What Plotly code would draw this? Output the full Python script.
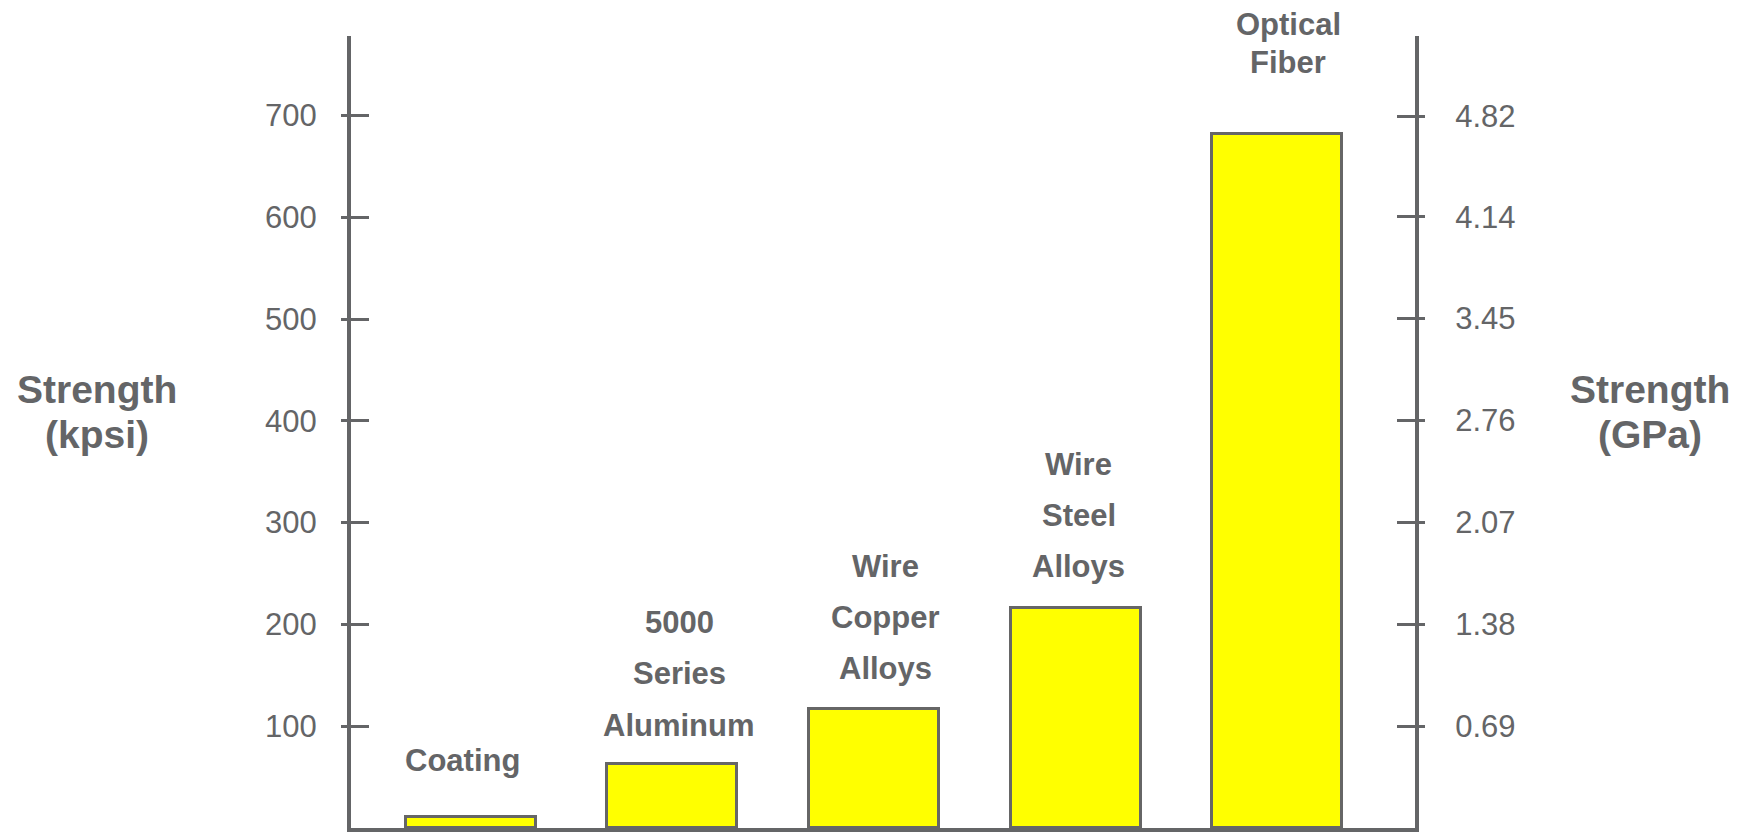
import plotly.graph_objects as go

# Tensile strength of common conductor / fiber materials
categories = ["Coating", "5000 Series Aluminum", "Wire Copper Alloys",
              "Wire Steel Alloys", "Optical Fiber"]
strength_kpsi = [11, 63, 117, 216, 682]
label_lines = [["Coating"],
               ["5000", "Series", "Aluminum"],
               ["Wire", "Copper", "Alloys"],
               ["Wire", "Steel", "Alloys"],
               ["Optical", "Fiber"]]
kpsi_ticks = [100, 200, 300, 400, 500, 600, 700]
gpa_tick_labels = ["0.69", "1.38", "2.07", "2.76", "3.45", "4.14", "4.82"]
KPSI_TO_GPA = 0.006895

# ---- styling -------------------------------------------------------------
W, H = 1748, 832
M_L, M_R, M_T, M_B = 351, 333, 36, 4
PLOT_W, PLOT_H = W - M_L - M_R, H - M_T - M_B
GRAY = "#646567"
FONT = "Arial, 'Liberation Sans', sans-serif"
Y_MAX = 778
X_RANGE = [-0.593, 4.682]

# label placement above each bar (pixels): gap to bottom baseline, line step, x nudge
label_gap = [46, 28, 30, 31, 60]
label_step = [0, 51.5, 51, 51, 38]
label_dx = [-8, 7, 11, 3, 11]
LABEL_SIZE = 31
TITLE_SIZE = 39


def px_to_paper_x(px):
    return (px - M_L) / PLOT_W


def px_to_paper_y(py):
    return (H - M_B - py) / PLOT_H


strength_gpa = [v * KPSI_TO_GPA for v in strength_kpsi]

fig = go.Figure()
fig.add_trace(go.Bar(
    x=categories, y=strength_kpsi, width=0.645,
    marker=dict(color="#FFFF00", line=dict(color="#666666", width=3)),
    hovertemplate="%{x}: %{y} kpsi<extra></extra>", showlegend=False,
))
# same values in GPa on the right-hand scale (invisible, keeps that axis live)
fig.add_trace(go.Scatter(
    x=categories, y=strength_gpa, yaxis="y2", mode="markers",
    marker=dict(opacity=0), hoverinfo="skip", showlegend=False,
))
# carriers for the outward half of the tick marks on each side
fig.add_trace(go.Scatter(
    x=categories, y=strength_kpsi, yaxis="y3", mode="markers",
    marker=dict(opacity=0), hoverinfo="skip", showlegend=False,
))
fig.add_trace(go.Scatter(
    x=categories, y=strength_gpa, yaxis="y4", mode="markers",
    marker=dict(opacity=0), hoverinfo="skip", showlegend=False,
))

annotations = []
# multi-line bar labels, one annotation per line for wider line spacing
for cat, val, lines, gap, step, dx in zip(categories, strength_kpsi, label_lines,
                                          label_gap, label_step, label_dx):
    n = len(lines)
    for k, line in enumerate(lines):
        j = n - 1 - k
        annotations.append(dict(
            x=cat, y=val, xref="x", yref="y", text="<b>%s</b>" % line,
            showarrow=False, xanchor="center", yanchor="middle",
            xshift=dx, yshift=gap + 0.3465 * LABEL_SIZE + j * step,
            font=dict(family=FONT, size=LABEL_SIZE, color=GRAY),
        ))

# axis titles
for cx, lines in ((97, ["Strength", "(kpsi)"]), (1650, ["Strength", "(GPa)"])):
    for line, base in zip(lines, (403, 448.5)):
        annotations.append(dict(
            x=px_to_paper_x(cx), y=px_to_paper_y(base - 0.3465 * TITLE_SIZE),
            xref="paper", yref="paper", text="<b>%s</b>" % line,
            showarrow=False, xanchor="center", yanchor="middle",
            font=dict(family=FONT, size=TITLE_SIZE, color=GRAY),
        ))

gpa_vals = [float(t) for t in gpa_tick_labels]
common = dict(showgrid=False, zeroline=False, tickwidth=3, tickcolor=GRAY,
              fixedrange=True)

fig.update_layout(
    width=W, height=H,
    margin=dict(l=M_L, r=M_R, t=M_T, b=M_B, pad=0),
    paper_bgcolor="white", plot_bgcolor="white",
    font=dict(family=FONT, color=GRAY),
    bargap=0,
    xaxis=dict(type="category", range=X_RANGE, showline=True, linewidth=4,
               linecolor=GRAY, ticks="", showticklabels=False,
               showgrid=False, zeroline=False, fixedrange=True),
    yaxis=dict(range=[0, Y_MAX], tickvals=kpsi_ticks,
               ticktext=[str(v) for v in kpsi_ticks],
               ticks="inside", ticklen=18, showline=True, linewidth=4,
               linecolor=GRAY, ticklabelstandoff=24,
               tickfont=dict(family=FONT, size=LABEL_SIZE, color=GRAY),
               **common),
    yaxis2=dict(overlaying="y", side="right", anchor="x",
                range=[0, Y_MAX * KPSI_TO_GPA], tickvals=gpa_vals,
                ticktext=gpa_tick_labels, ticks="inside", ticklen=18,
                showline=True, linewidth=4, linecolor=GRAY,
                ticklabelstandoff=30,
                tickfont=dict(family=FONT, size=LABEL_SIZE, color=GRAY),
                **common),
    yaxis3=dict(overlaying="y", side="left", anchor="x",
                range=[0, Y_MAX], tickvals=kpsi_ticks, ticks="outside",
                ticklen=9, showline=False, showticklabels=False, **common),
    yaxis4=dict(overlaying="y", side="right", anchor="x",
                range=[0, Y_MAX * KPSI_TO_GPA], tickvals=gpa_vals,
                ticks="outside", ticklen=9, showline=False,
                showticklabels=False, **common),
    annotations=annotations,
)

fig.write_html("out.html", config={"displayModeBar": False})
